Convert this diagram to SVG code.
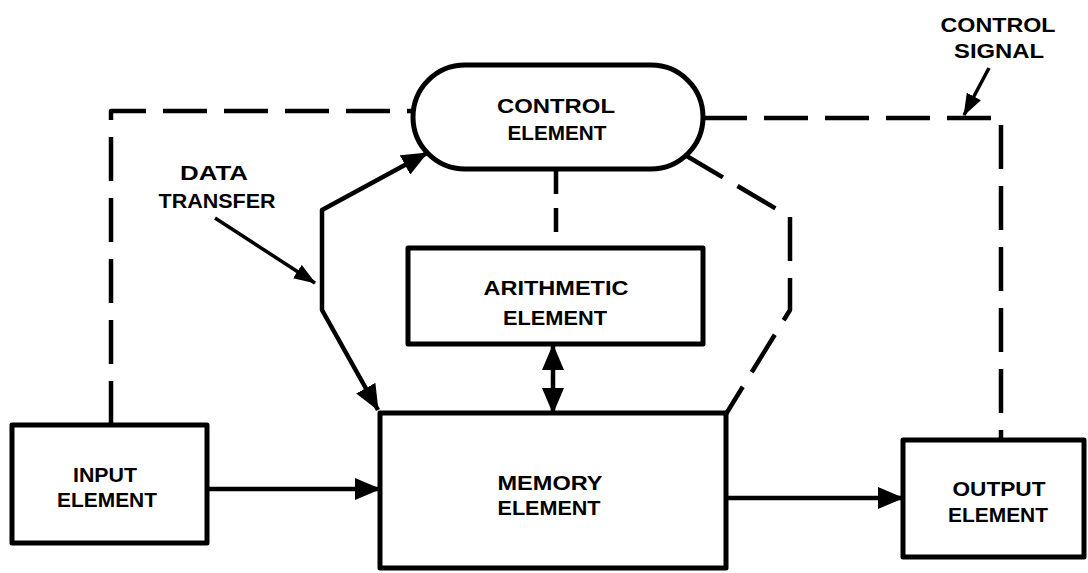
<svg xmlns="http://www.w3.org/2000/svg" width="1088" height="573" viewBox="0 0 1088 573">
  <defs>
    <style>
      .box { fill: #fff; stroke: #000; stroke-width: 5; stroke-linejoin: round; }
      .line { fill: none; stroke: #000; stroke-width: 4.5; stroke-linejoin: round; }
      .thin { fill: none; stroke: #000; stroke-width: 3.5; }
      .dash { fill: none; stroke: #000; stroke-width: 4.5; stroke-dasharray: 44 17; stroke-linejoin: round; }
      text { font-family: "Liberation Sans", Arial, sans-serif; font-weight: bold; font-size: 21px; fill: #000; text-anchor: middle; }
    </style>
    <marker id="ah" markerUnits="userSpaceOnUse" markerWidth="26" markerHeight="22" refX="25" refY="11" orient="auto-start-reverse">
      <path d="M0,0 L26,11 L0,22 z" fill="#000"/>
    </marker>
    <marker id="ahs" markerUnits="userSpaceOnUse" markerWidth="22" markerHeight="16" refX="21" refY="8" orient="auto">
      <path d="M0,0 L22,8 L0,16 z" fill="#000"/>
    </marker>
  </defs>

  <g id="connectors">
    <!-- control signal dashed lines -->
    <path class="dash" d="M111,425 V111 H413"/>
    <path class="dash" d="M703,118 H1001 V440"/>
    <path class="dash" d="M685,155 L790,217 V310 L726,414"/>
    <path class="dash" style="stroke-dasharray: 24 14" d="M556,170 V248"/>
    <!-- data transfer -->
    <path class="line" marker-start="url(#ah)" marker-end="url(#ah)" d="M378,410 L322,310 V210 L427,153"/>
    <path class="line" marker-start="url(#ah)" marker-end="url(#ah)" d="M553,345 V413"/>
    <path class="line" marker-end="url(#ah)" d="M207,489 H380"/>
    <path class="line" marker-end="url(#ah)" d="M726,498 H903"/>
    <!-- label pointers -->
    <path class="thin" marker-end="url(#ahs)" d="M215,218 L315,283"/>
    <path class="thin" marker-end="url(#ahs)" d="M989,68 L964,115"/>
  </g>

  <g id="control">
    <rect class="box" x="413" y="65" width="290" height="104" rx="52" ry="52"/>
    <text x="556" y="113" textLength="118" lengthAdjust="spacingAndGlyphs">CONTROL</text>
    <text x="557" y="140" textLength="99" lengthAdjust="spacingAndGlyphs">ELEMENT</text>
  </g>

  <g id="arithmetic">
    <rect class="box" x="408" y="248" width="295" height="96"/>
    <text x="556" y="295" textLength="145" lengthAdjust="spacingAndGlyphs">ARITHMETIC</text>
    <text x="555" y="325" textLength="104" lengthAdjust="spacingAndGlyphs">ELEMENT</text>
  </g>

  <g id="memory">
    <rect class="box" x="380" y="413" width="346" height="155"/>
    <text x="550" y="490" textLength="105" lengthAdjust="spacingAndGlyphs">MEMORY</text>
    <text x="549" y="515" textLength="103" lengthAdjust="spacingAndGlyphs">ELEMENT</text>
  </g>

  <g id="input">
    <rect class="box" x="12" y="425" width="195" height="118"/>
    <text x="105" y="482" textLength="64" lengthAdjust="spacingAndGlyphs">INPUT</text>
    <text x="107" y="507" textLength="100" lengthAdjust="spacingAndGlyphs">ELEMENT</text>
  </g>

  <g id="output">
    <rect class="box" x="903" y="440" width="181" height="117"/>
    <text x="999" y="496" textLength="93" lengthAdjust="spacingAndGlyphs">OUTPUT</text>
    <text x="998" y="522" textLength="100" lengthAdjust="spacingAndGlyphs">ELEMENT</text>
  </g>

  <g id="label-data-transfer">
    <text x="214" y="180" textLength="68" lengthAdjust="spacingAndGlyphs">DATA</text>
    <text x="217" y="208" textLength="117" lengthAdjust="spacingAndGlyphs">TRANSFER</text>
  </g>

  <g id="label-control-signal">
    <text x="998" y="32" textLength="115" lengthAdjust="spacingAndGlyphs">CONTROL</text>
    <text x="999" y="58" textLength="90" lengthAdjust="spacingAndGlyphs">SIGNAL</text>
  </g>
</svg>
